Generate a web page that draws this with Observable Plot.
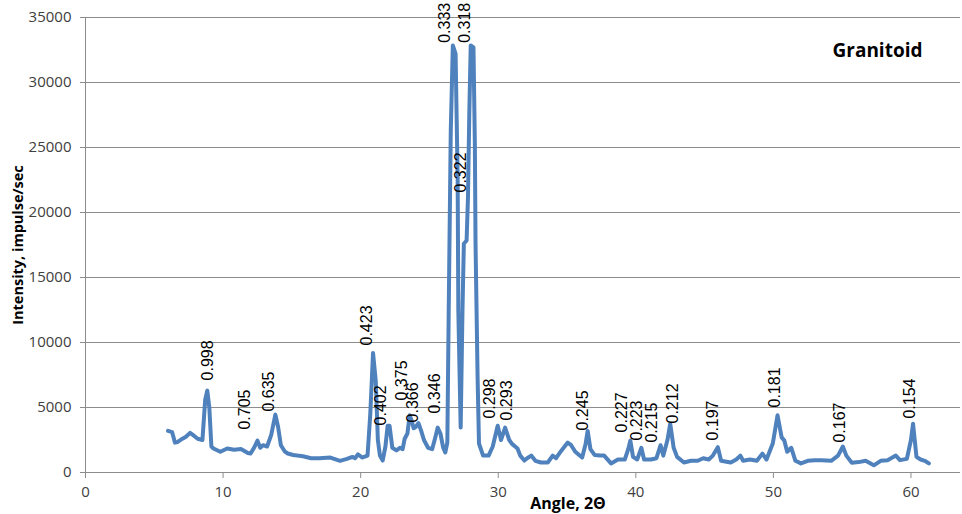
<!DOCTYPE html>
<html>
<head>
<meta charset="utf-8">
<script src="https://cdn.jsdelivr.net/npm/d3@7"></script>
<script src="https://cdn.jsdelivr.net/npm/@observablehq/plot@0.6"></script>
<style>
  html, body { margin: 0; padding: 0; background: #fff; }
  #chart svg { display: block; }
</style>
</head>
<body>
<div id="chart"></div>
<script>
// X-ray diffraction pattern, Granitoid
const angle = [
  6.0, 6.3, 6.5, 6.7, 7.05, 7.3, 7.6, 7.85, 8.15, 8.5, 8.7, 8.85, 9.0, 9.15, 9.3, 9.8,
  10.3, 10.8, 11.3, 11.8, 12.0, 12.25, 12.5, 12.7, 12.9, 13.2, 13.5, 13.8, 14.0, 14.2, 14.5, 14.7,
  15.1, 15.4, 15.8, 16.4, 17.0, 17.8, 18.5, 19.0, 19.4, 19.6, 19.8, 20.1, 20.5, 20.7, 20.9, 21.1,
  21.25, 21.4, 21.6, 21.8, 21.96, 22.1, 22.3, 22.6, 22.85, 23.05, 23.2, 23.4, 23.56, 23.7, 23.85, 24.0,
  24.2, 24.4, 24.6, 24.9, 25.2, 25.4, 25.6, 25.8, 26.0, 26.15, 26.3, 26.4, 26.55, 26.7, 26.9, 27.05,
  27.1, 27.27, 27.4, 27.5, 27.7, 27.8, 27.9, 28.0, 28.2, 28.3, 28.35, 28.5, 28.6, 28.9, 29.3, 29.6,
  29.96, 30.2, 30.5, 30.8, 31.0, 31.4, 31.6, 31.9, 32.1, 32.4, 32.7, 33.1, 33.6, 33.96, 34.2, 34.6,
  35.05, 35.3, 35.6, 36.1, 36.35, 36.5, 36.7, 37.0, 37.4, 37.7, 38.2, 38.7, 39.2, 39.45, 39.6, 39.8,
  40.1, 40.4, 40.6, 41.1, 41.5, 41.8, 42.0, 42.3, 42.5, 42.75, 43.0, 43.5, 44.0, 44.5, 44.9, 45.3,
  45.6, 45.96, 46.2, 46.9, 47.3, 47.6, 47.8, 48.3, 48.8, 49.2, 49.5, 49.96, 50.3, 50.6, 50.8, 51.0,
  51.3, 51.6, 52.0, 52.5, 53.0, 53.5, 54.2, 54.7, 55.05, 55.3, 55.7, 56.2, 56.7, 57.3, 57.8, 58.3,
  58.9, 59.2, 59.7, 60.0, 60.15, 60.4, 60.7, 61.0, 61.3
];
const intensity = [
  3200, 3100, 2300, 2350, 2600, 2750, 3050, 2850, 2600, 2500, 5600, 6300, 5000, 2000, 1850, 1600,
  1850, 1750, 1800, 1500, 1460, 1900, 2450, 1900, 2100, 2000, 2900, 4450, 3500, 2100, 1600, 1460,
  1350, 1300, 1250, 1100, 1100, 1150, 900, 1050, 1200, 1100, 1400, 1150, 1300, 4500, 9200, 7000,
  2500, 1300, 920, 2000, 3600, 3600, 1900, 1700, 1900, 1800, 2600, 3000, 4400, 4000, 3400, 3500,
  3800, 3200, 2500, 1900, 1800, 2600, 3450, 3000, 1900, 1540, 2300, 12400, 26300, 32850, 32200, 22700,
  12400, 3460, 12400, 17600, 17850, 21150, 27850, 32850, 32700, 25300, 17600, 7300, 2230, 1300, 1300, 2000,
  3600, 2500, 3450, 2500, 2200, 1850, 1300, 920, 1100, 1300, 900, 770, 770, 1300, 1100, 1700,
  2300, 2100, 1600, 1150, 2200, 3200, 1800, 1350, 1300, 1300, 700, 1000, 1000, 1800, 2450, 1200,
  1000, 1900, 1000, 1000, 1100, 2100, 1300, 2500, 3750, 1900, 1200, 770, 900, 900, 1100, 1000,
  1300, 1950, 900, 770, 1000, 1300, 900, 1000, 900, 1450, 1000, 2250, 4400, 2700, 2450, 1600,
  1900, 900, 700, 900, 950, 950, 900, 1300, 2000, 1300, 750, 800, 900, 550, 900, 950,
  1300, 950, 1050, 2500, 3750, 1200, 1000, 900, 700
];

// d-spacing labels (nm) above the peaks
const peakLabels = ["0.998", "0.705", "0.635", "0.423", "0.402", "0.375", "0.366", "0.346", "0.333", "0.322", "0.318",
  "0.298", "0.293", "0.245", "0.227", "0.223", "0.215", "0.212", "0.197", "0.181", "0.167", "0.154"];
const labelAngle = [8.9, 11.56, 13.3, 20.45, 21.5, 23.0, 23.8, 25.4, 26.1, 27.3, 27.55,
  29.4, 30.6, 36.15, 39.0, 40.1, 41.2, 42.7, 45.6, 50.1, 54.85, 59.9];
const labelIntensity = [7080, 3300, 4690, 9770, 3620, 5540, 3850, 4540, 33050, 21540, 33050,
  4150, 4000, 3230, 3080, 2460, 2300, 3770, 2460, 5000, 2300, 4150];

const xTicks = [0, 10, 20, 30, 40, 50, 60];
const yTicks = [0, 5000, 10000, 15000, 20000, 25000, 30000, 35000];

const data = angle.map((a, i) => ({angle: a, intensity: intensity[i]}));
const labels = peakLabels.map((t, i) => ({text: t, angle: labelAngle[i], intensity: labelIntensity[i]}));

const gridColor = "#8c8c8c";
const tickText = "#404040";

const chart = Plot.plot({
  width: 962,
  height: 514,
  marginLeft: 85,
  marginRight: 2,
  marginTop: 17,
  marginBottom: 42,
  style: {fontFamily: "'Open Sans', sans-serif", fontSize: "14px", color: tickText, background: "#fff"},
  x: {domain: [0, 63.6]},
  y: {domain: [0, 35000]},
  marks: [
    Plot.gridY(yTicks, {stroke: gridColor, strokeOpacity: 1, strokeWidth: 1}),
    Plot.ruleY([0], {stroke: gridColor, strokeWidth: 1}),
    Plot.ruleX([0], {stroke: gridColor, strokeWidth: 1}),
    Plot.axisX({ticks: xTicks, tickSize: 6, tickPadding: 8, stroke: gridColor, fill: tickText, label: null, fontSize: 15, tickFormat: d => String(d)}),
    Plot.axisY({ticks: yTicks, tickSize: 5, tickPadding: 9, stroke: gridColor, fill: tickText, label: null, fontSize: 15, tickFormat: d => String(d)}),
    Plot.line(data, {x: "angle", y: "intensity", stroke: "#4f81bd", strokeWidth: 4, strokeLinejoin: "round", strokeLinecap: "round"}),
    Plot.text(labels, {x: "angle", y: "intensity", text: "text", rotate: -90, textAnchor: "start", lineAnchor: "middle",
      fill: "#000", fontSize: 16, fontFamily: "'Liberation Sans', Arial, sans-serif"}),
    Plot.text(["Intensity, impulse/sec"], {frameAnchor: "left", dx: -67, rotate: -90, textAnchor: "middle", lineAnchor: "middle", fill: "#000", fontWeight: "bold", fontSize: 14.5}),
    Plot.text(["Angle, 2Θ"], {frameAnchor: "bottom", dx: 45, dy: 31, textAnchor: "middle", lineAnchor: "middle", fill: "#000", fontWeight: "bold", fontSize: 16}),
    Plot.text(["Granitoid"], {frameAnchor: "top-left", dx: 792, dy: 33, fill: "#000", fontWeight: "bold", fontSize: 19, textAnchor: "middle", lineAnchor: "middle"})
  ]
});
document.getElementById("chart").appendChild(chart);
</script>
</body>
</html>
